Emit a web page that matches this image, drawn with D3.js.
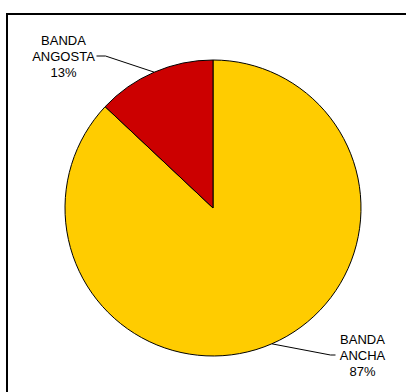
<!DOCTYPE html>
<html>
<head>
<meta charset="utf-8">
<script src="https://cdn.jsdelivr.net/npm/d3@7"></script>
<style>
  body { margin: 0; background: #fff; }
  svg { display: block; }
  text { font-family: "Liberation Sans", Arial, sans-serif; font-size: 13px; fill: #000; }
</style>
</head>
<body>
<div id="chart"></div>
<script>
var w = 406,
    h = 392;

// data
var categories = ["BANDA ANCHA", "BANDA ANGOSTA"];
var values = [87, 13];
var colors = ["#ffcc00", "#cc0000"];

var cx = 213, cy = 208, radius = 148;

var svg = d3.select("#chart").append("svg")
    .attr("width", w)
    .attr("height", h);

// chart frame
svg.append("rect")
    .attr("x", 7)
    .attr("y", 14)
    .attr("width", 420)
    .attr("height", 420)
    .attr("fill", "none")
    .attr("stroke", "#000")
    .attr("stroke-width", 2);

var pie = d3.pie().sort(null).value(function(d) { return d; });
var arcs = pie(values);
var arc = d3.arc().innerRadius(0).outerRadius(radius);

var g = svg.append("g").attr("transform", "translate(" + cx + "," + cy + ")");

g.selectAll("path.slice")
    .data(arcs)
    .enter().append("path")
    .attr("class", "slice")
    .attr("d", arc)
    .attr("fill", function(d, i) { return colors[i]; })
    .attr("stroke", "#000")
    .attr("stroke-width", 1);

// label positions (relative to pie center)
var labelPos = [[149.5, 136], [-149.5, -163]];
var total = d3.sum(values);

arcs.forEach(function(d, i) {
    var mid = (d.startAngle + d.endAngle) / 2;
    var px = radius * Math.sin(mid), py = -radius * Math.cos(mid);
    var lx = labelPos[i][0], ly = labelPos[i][1];
    var lineY = ly + 11;
    var elbowX, endX;
    if (i == 0) { elbowX = lx - 32; endX = lx - 27; }
    else { elbowX = lx + 42; endX = lx + 33; }

    g.append("polyline")
        .attr("points", [[px, py], [elbowX, lineY], [endX, lineY]].map(function(p) { return p.join(","); }).join(" "))
        .attr("fill", "none")
        .attr("stroke", "#000")
        .attr("stroke-width", 1);

    var words = categories[i].split(" ");
    var lines = [words[0], words[1], Math.round(d.data / total * 100) + "%"];
    var t = g.append("text")
        .attr("text-anchor", "middle")
        .attr("x", lx)
        .attr("y", ly);
    lines.forEach(function(s, k) {
        t.append("tspan").attr("x", lx).attr("dy", k == 0 ? 0 : 16).text(s);
    });
});
</script>
</body>
</html>
